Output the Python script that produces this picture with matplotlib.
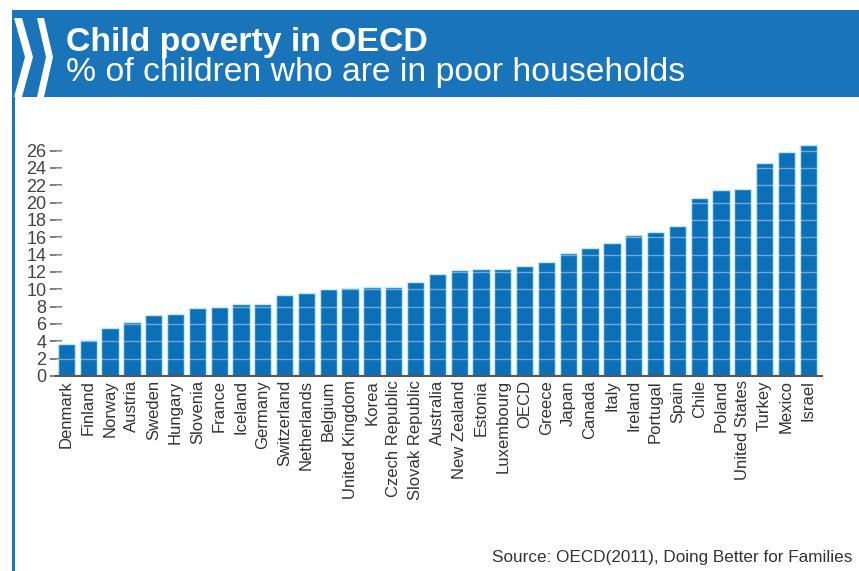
import matplotlib
matplotlib.use("Agg")
import matplotlib.pyplot as plt
from matplotlib.patches import Rectangle, Polygon

plt.rcParams['font.family'] = ['Liberation Sans', 'DejaVu Sans']

countries = ['Denmark', 'Finland', 'Norway', 'Austria', 'Sweden', 'Hungary', 'Slovenia',
             'France', 'Iceland', 'Germany', 'Switzerland', 'Netherlands', 'Belgium',
             'United Kingdom', 'Korea', 'Czech Republic', 'Slovak Republic', 'Australia',
             'New Zealand', 'Estonia', 'Luxembourg', 'OECD', 'Greece', 'Japan', 'Canada',
             'Italy', 'Ireland', 'Portugal', 'Spain', 'Chile', 'Poland', 'United States',
             'Turkey', 'Mexico', 'Israel']
poverty = [3.7, 4.2, 5.5, 6.2, 7.0, 7.2, 7.8, 8.0, 8.3, 8.3, 9.4, 9.6, 10.0,
           10.1, 10.3, 10.3, 10.9, 11.8, 12.2, 12.4, 12.4, 12.7, 13.2, 14.2, 14.8,
           15.3, 16.3, 16.6, 17.3, 20.5, 21.5, 21.6, 24.6, 25.8, 26.6]
yticks = list(range(0, 27, 2))

W, H = 859, 571
fig = plt.figure(figsize=(W / 100, H / 100), dpi=100)

# decoration layer in pixel coordinates
bg = fig.add_axes([0, 0, 1, 1], zorder=0)
bg.set_xlim(0, W)
bg.set_ylim(H, 0)
bg.axis('off')
blue = '#1a74ba'
bg.add_patch(Rectangle((12, 10), W - 12, 87, color=blue, lw=0))
bg.add_patch(Rectangle((12, 10), 2.5, H - 10, color=blue, lw=0))
bg.add_patch(Polygon([(14, 18), (22, 18), (33, 57), (22, 97), (14, 97), (25, 57)],
                     closed=True, color='white', lw=0))
bg.add_patch(Polygon([(37, 18), (44, 18), (53, 57), (44, 97), (37, 97), (46, 57)],
                     closed=True, color='white', lw=0))
bg.text(66, 51, 'Child poverty in OECD', color='white', fontsize=24.3,
        fontweight='bold', va='baseline', ha='left')
bg.text(66, 81, '% of children who are in poor households', color='white',
        fontsize=24.3, va='baseline', ha='left')
bg.text(852, 562, 'Source: OECD(2011), Doing Better for Families', color='#333333',
        fontsize=12.3, va='baseline', ha='right')

# main chart
ax = fig.add_axes([56 / W, (H - 376) / H, (822 - 56) / W, (376 - 142) / H], zorder=1)
ax.patch.set_alpha(0)
ax.bar(range(len(countries)), poverty, width=0.79, color='#0c70b8',
       edgecolor='#bfeafc', linewidth=1.0, zorder=1)
ax.set_xlim(-0.48, len(countries) - 0.37)
ax.set_ylim(0, 27)
ax.set_yticks(yticks)
ax.set_yticklabels([str(t) for t in yticks], fontsize=13, color='#444444')
ax.set_xticks(range(len(countries)))
ax.set_xticklabels(countries, rotation=90, fontsize=12, color='#333333')
ax.tick_params(axis='y', direction='inout', length=8, width=1.2, color='#666666', pad=3)
ax.tick_params(axis='x', length=0, pad=3)
for t in yticks[1:]:
    ax.axhline(t, color='white', alpha=0.4, lw=1, zorder=2)
for s in ['left', 'top', 'right']:
    ax.spines[s].set_visible(False)
ax.spines['bottom'].set_color('#555555')
ax.spines['bottom'].set_linewidth(1.5)
ax.spines['bottom'].set_zorder(3)

fig.savefig('out.png', dpi=100)
